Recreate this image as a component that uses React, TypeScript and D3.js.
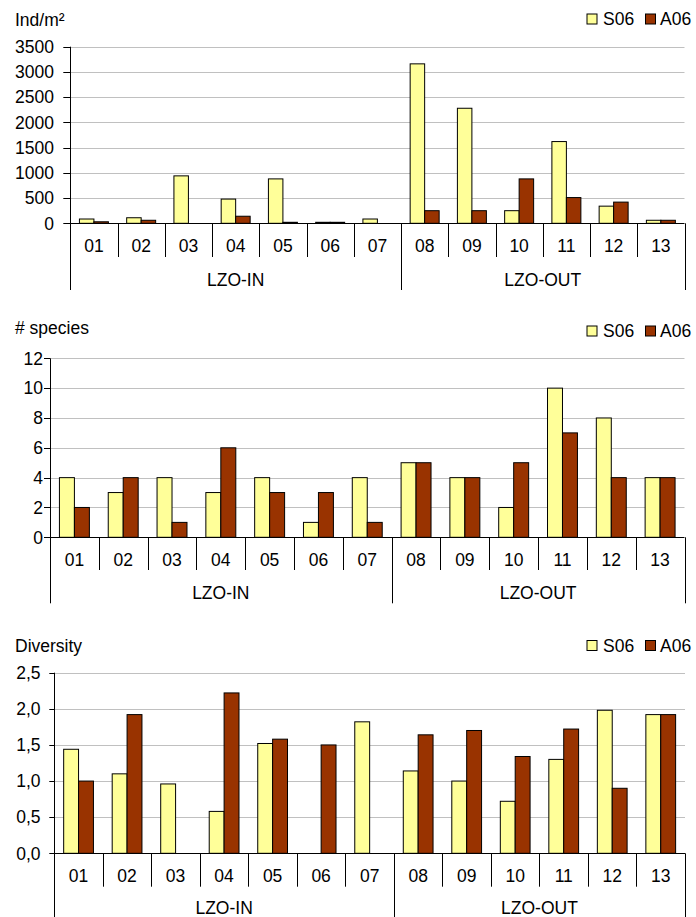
import React from "react";
import * as d3 from "d3";

const categories = ["01", "02", "03", "04", "05", "06", "07", "08", "09", "10", "11", "12", "13"];
const groupNames = ["LZO-IN", "LZO-OUT"];
const groupSizes = [7, 6];
const seriesNames = ["S06", "A06"];
const seriesColors = ["#FFFF99", "#993300"];

const densityS06 = [85, 110, 940, 480, 880, 20, 85, 3160, 2280, 250, 1620, 340, 60];
const densityA06 = [30, 60, 0, 140, 20, 20, 0, 250, 250, 880, 510, 420, 60];
const densityTicks = [0, 500, 1000, 1500, 2000, 2500, 3000, 3500];

const speciesS06 = [4, 3, 4, 3, 4, 1, 4, 5, 4, 2, 10, 8, 4];
const speciesA06 = [2, 4, 1, 6, 3, 3, 1, 5, 4, 5, 7, 4, 4];
const speciesTicks = [0, 2, 4, 6, 8, 10, 12];

const diversityS06 = [1.44, 1.1, 0.96, 0.58, 1.52, 0, 1.82, 1.14, 1.0, 0.72, 1.3, 1.98, 1.92];
const diversityA06 = [1.0, 1.92, 0, 2.22, 1.58, 1.5, 0, 1.64, 1.7, 1.34, 1.72, 0.9, 1.92];
const diversityTicks = [0, 0.5, 1, 1.5, 2, 2.5];

const FONT = "'Liberation Sans', Arial, sans-serif";
const FS = 17.5;

type PanelProps = {
  title: string;
  titleY: number;
  legendY: number;
  left: number;
  right: number;
  yTop: number;
  yZero: number;
  max: number;
  ticks: number[];
  fmt: (v: number) => string;
  labelRight: number;
  tickLen: number;
  s1: number[];
  s2: number[];
  catBaseline: number;
  sepBottom: number;
  groupBaseline: number;
  groupBottom: number;
};

function Panel(p: PanelProps) {
  const y = d3.scaleLinear().domain([0, p.max]).range([p.yZero, p.yTop]);
  const x0 = d3.scaleBand<string>().domain(categories).range([p.left, p.right]).paddingInner(0).paddingOuter(0);
  const x1 = d3.scaleBand<string>().domain(seriesNames).range([0, x0.bandwidth()]).paddingInner(0).paddingOuter(0.63);
  const data = [p.s1, p.s2];
  // group boundaries
  const bounds: number[] = [0];
  groupSizes.forEach((s, i) => bounds.push(bounds[i] + s));
  const bx = (i: number) => (i < categories.length ? (x0(categories[i]) as number) : p.right);
  return (
    <g>
      <text x={15} y={p.titleY} fontSize={FS} fill="#000">{p.title}</text>
      {/* legend */}
      <rect x={587} y={p.legendY} width={10} height={10} fill={seriesColors[0]} stroke="#000" strokeWidth={1} />
      <text x={603} y={p.legendY + 11} fontSize={FS} fill="#000">{seriesNames[0]}</text>
      <rect x={645.5} y={p.legendY} width={10} height={10} fill={seriesColors[1]} stroke="#000" strokeWidth={1} />
      <text x={660} y={p.legendY + 11} fontSize={FS} fill="#000">{seriesNames[1]}</text>
      {/* gridlines */}
      {p.ticks.map((t) => (
        <g key={t}>
          {t !== 0 && (
            <line x1={p.left} x2={p.right} y1={Math.round(y(t)) + 0.5} y2={Math.round(y(t)) + 0.5} stroke="#c0c0c0" strokeWidth={1} />
          )}
          <line x1={p.left - p.tickLen} x2={p.left} y1={Math.round(y(t)) + 0.5} y2={Math.round(y(t)) + 0.5} stroke="#000" strokeWidth={1} />
          <text x={p.labelRight} y={y(t)} dy="0.36em" textAnchor="end" fontSize={FS} fill="#000">{p.fmt(t)}</text>
        </g>
      ))}
      {/* bars */}
      {categories.map((c, i) => (
        <g key={c}>
          {data.map((s, j) => {
            const v = s[i];
            if (!v) return null;
            const bx0 = (x0(c) as number) + (x1(seriesNames[j]) as number);
            return (
              <rect key={j} x={bx0} y={y(v)} width={x1.bandwidth()} height={p.yZero - y(v)} fill={seriesColors[j]} stroke="#000" strokeWidth={1} />
            );
          })}
          <text x={(x0(c) as number) + x0.bandwidth() / 2} y={p.catBaseline} textAnchor="middle" fontSize={FS} fill="#000">{c}</text>
        </g>
      ))}
      {/* category separators */}
      {categories.map((c, i) => {
        if (i === 0 || bounds.includes(i)) return null;
        const xx = Math.round(x0(c) as number) + 0.5;
        return <line key={c} x1={xx} x2={xx} y1={p.yZero} y2={p.sepBottom} stroke="#000" strokeWidth={1} />;
      })}
      {/* group separators and labels */}
      {bounds.map((b) => {
        const xx = Math.round(bx(b)) + 0.5;
        return <line key={b} x1={xx} x2={xx} y1={b === 0 ? p.yTop : p.yZero} y2={p.groupBottom} stroke="#000" strokeWidth={1} />;
      })}
      {groupNames.map((g, i) => (
        <text key={g} x={(bx(bounds[i]) + bx(bounds[i + 1])) / 2} y={p.groupBaseline} textAnchor="middle" fontSize={FS} fill="#000">{g}</text>
      ))}
      {/* x axis line */}
      <line x1={p.left} x2={p.right} y1={Math.round(p.yZero) + 0.5} y2={Math.round(p.yZero) + 0.5} stroke="#000" strokeWidth={1} />
    </g>
  );
}

const fmtInt = (v: number) => d3.format("d")(v);
const fmtDec = (v: number) => d3.format(".1f")(v).replace(".", ",");

export default function App() {
  return (
    <svg width={696} height={917} style={{ position: "absolute", left: 0, top: 0, background: "#fff" }} fontFamily={FONT}>
      <rect x={0} y={0} width={696} height={917} fill="#fff" />
      <Panel
        title="Ind/m²" titleY={26} legendY={14}
        left={70.3} right={684.5} yTop={46.7} yZero={223.3} max={3500}
        ticks={densityTicks} fmt={fmtInt} labelRight={54} tickLen={7}
        s1={densityS06} s2={densityA06}
        catBaseline={252} sepBottom={257} groupBaseline={285.5} groupBottom={290}
      />
      <Panel
        title="# species" titleY={334} legendY={326}
        left={50} right={684.5} yTop={358.3} yZero={537.3} max={12}
        ticks={speciesTicks} fmt={fmtInt} labelRight={43} tickLen={6}
        s1={speciesS06} s2={speciesA06}
        catBaseline={566} sepBottom={570} groupBaseline={599.3} groupBottom={603.3}
      />
      <Panel
        title="Diversity" titleY={652} legendY={640.5}
        left={54.3} right={685} yTop={672.7} yZero={853.3} max={2.5}
        ticks={diversityTicks} fmt={fmtDec} labelRight={40.5} tickLen={5}
        s1={diversityS06} s2={diversityA06}
        catBaseline={882} sepBottom={886.7} groupBaseline={913.5} groupBottom={917}
      />
    </svg>
  );
}
